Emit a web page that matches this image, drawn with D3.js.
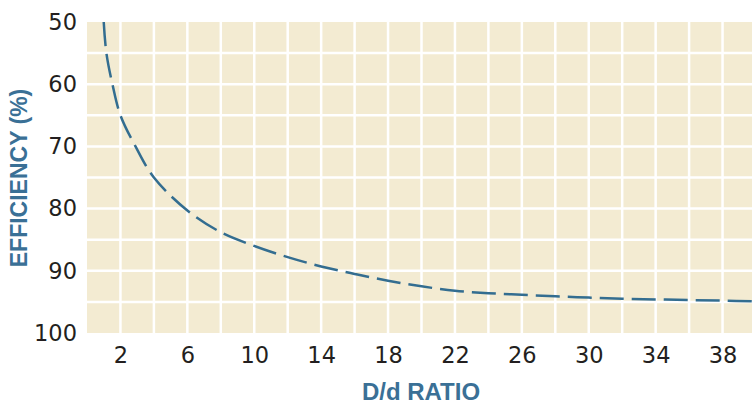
<!DOCTYPE html>
<html>
<head>
<meta charset="utf-8">
<script src="https://cdn.jsdelivr.net/npm/d3@7"></script>
<style>
  body { margin: 0; background: #fff; }
  svg { display: block; }
</style>
</head>
<body>
<div id="chart"></div>
<script>
// curve data
var ratio      = [1, 1.16, 1.52, 2, 2.9, 4, 6, 8, 10, 12, 14, 16, 18, 20, 22, 24, 26, 28, 30, 32, 34, 36, 38, 40];
var efficiency = [50, 55, 60, 65, 70, 75, 80.3, 83.8, 86, 87.8, 89.3, 90.5, 91.6, 92.5, 93.2, 93.6, 93.85, 94.1, 94.3, 94.5, 94.6, 94.7, 94.8, 94.9];

var xTicks = [2, 6, 10, 14, 18, 22, 26, 30, 34, 38];
var yTicks = [50, 60, 70, 80, 90, 100];

var W = 752, H = 405;
var margin = {top: 22, right: -4, bottom: 72, left: 87},
    width = W - margin.left - margin.right,
    height = H - margin.top - margin.bottom;

var svg = d3.select("#chart")
  .append("svg")
    .attr("width", W)
    .attr("height", H)
  .append("g")
    .attr("transform", "translate(" + margin.left + "," + margin.top + ")");

var x = d3.scaleLinear().domain([0, 40]).range([0, width]);
var y = d3.scaleLinear().domain([50, 100]).range([0, height]);

// background
svg.append("rect")
  .attr("width", width)
  .attr("height", height)
  .attr("fill", "#f3ebd2");

// grid lines
svg.append("g")
  .selectAll("line")
  .data(d3.range(2, 40, 2))
  .enter().append("line")
    .attr("x1", function(d) { return x(d); })
    .attr("x2", function(d) { return x(d); })
    .attr("y1", 0)
    .attr("y2", height)
    .attr("stroke", "#fff")
    .attr("stroke-width", 2.5);

svg.append("g")
  .selectAll("line")
  .data(d3.range(55, 100, 5))
  .enter().append("line")
    .attr("x1", 0)
    .attr("x2", width)
    .attr("y1", function(d) { return y(d); })
    .attr("y2", function(d) { return y(d); })
    .attr("stroke", "#fff")
    .attr("stroke-width", 2.5);

// axes (labels only)
var xAxis = svg.append("g")
  .attr("transform", "translate(0," + height + ")")
  .call(d3.axisBottom(x).tickValues(xTicks).tickSize(0).tickPadding(14));
var yAxis = svg.append("g")
  .call(d3.axisLeft(y).tickValues(yTicks).tickSize(0).tickPadding(10));

[xAxis, yAxis].forEach(function(a) {
  a.select(".domain").remove();
  a.selectAll("text")
    .attr("fill", "#231f20")
    .attr("font-family", "'DejaVu Sans', sans-serif")
    .attr("font-size", "22.5px");
});
xAxis.selectAll("text").attr("dy", "0.71em");

// curve
var pts = ratio.map(function(r, i) { return [r, efficiency[i]]; });

svg.append("path")
  .datum(pts)
  .attr("d", d3.line()
    .x(function(d) { return x(d[0]); })
    .y(function(d) { return y(d[1]); })
    .curve(d3.curveCatmullRom.alpha(0.5)))
  .attr("fill", "none")
  .attr("stroke", "#336d90")
  .attr("stroke-width", 2.5)
  .attr("stroke-dasharray", "24,8");

// axis titles
svg.append("text")
  .attr("x", 421 - margin.left)
  .attr("y", 400 - margin.top)
  .attr("text-anchor", "middle")
  .attr("fill", "#3a7096")
  .attr("font-family", "'Liberation Sans', Arial, sans-serif")
  .attr("font-weight", "bold")
  .attr("font-size", "24px")
  .text("D/d RATIO");

svg.append("text")
  .attr("transform", "translate(" + (27 - margin.left) + "," + (178 - margin.top) + ") rotate(-90)")
  .attr("text-anchor", "middle")
  .attr("fill", "#3a7096")
  .attr("font-family", "'Liberation Sans', Arial, sans-serif")
  .attr("font-weight", "bold")
  .attr("font-size", "23px")
  .text("EFFICIENCY (%)");
</script>
</body>
</html>
